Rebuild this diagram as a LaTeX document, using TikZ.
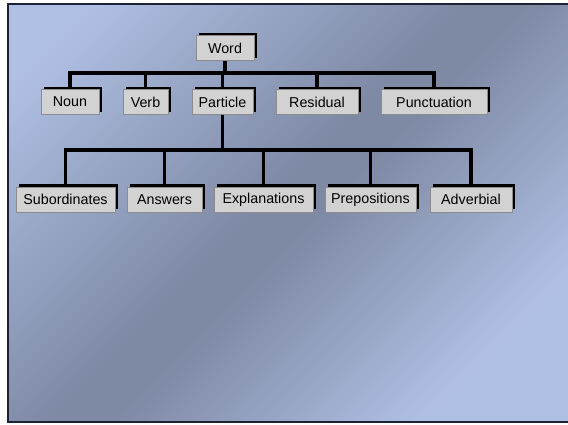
\documentclass[tikz,border=0pt]{standalone}
\usepackage{fontspec}
\setmainfont{Liberation Sans}
\usetikzlibrary{shadows}
\definecolor{bglight}{HTML}{B0C0E4}
\definecolor{bgdark}{HTML}{7E89A4}
\definecolor{frameink}{HTML}{1C2233}
\definecolor{boxfill}{HTML}{D2D2D2}
\definecolor{boxedge}{HTML}{8C8C8C}
\pgfdeclarelayer{slide}
\pgfdeclarelayer{links}
\pgfsetlayers{slide,links,main}
\tikzset{
  wordbox/.style={draw=boxedge, line width=0.6pt, fill=boxfill, rectangle,
    minimum height=25pt, inner sep=0pt, font=\fontsize{14.3}{16}\selectfont,
    general shadow={fill=black, shadow xshift=2.6pt, shadow yshift=2.6pt}},
  link/.style={draw=black, line width=3.8pt, line cap=rect, line join=miter}
}
\begin{document}
\begin{tikzpicture}[x=1pt, y=-1pt]
  \useasboundingbox (0,0) rectangle (568,424);

  % slide background: diagonal light-dark-light gradient in bands of constant x+y
  \begin{pgfonlayer}{slide}
    \fill[white] (0,0) rectangle (568,424);
    \begin{scope}
      \clip (8,4) rectangle (572,422);
      \foreach \s in {0,4,...,996} {
        \pgfmathsetmacro\p{(\s<500) ? max(0,min(100,(\s-90)/3.8)) : max(0,min(100,(840-\s)/3.1))}
        \fill[bgdark!\p!bglight] (\s+10,-10) -- (\s+14.6,-10) -- (\s-445.4,450) -- (\s-450,450) -- cycle;
      }
    \end{scope}
    \draw[frameink, line width=1.8pt] (572,4) -- (8,4) -- (8,422) -- (572,422);
  \end{pgfonlayer}

  % top level
  \node[wordbox, minimum width=58pt] (word) at (225,48) {Word};

  % word classes
  \node[wordbox, minimum width=58pt]  (noun)  at (70,102)    {Noun};
  \node[wordbox, minimum width=45pt]  (verb)  at (145.5,102) {Verb};
  \node[wordbox, minimum width=61pt]  (part)  at (222.5,102) {Particle};
  \node[wordbox, minimum width=82pt]  (resid) at (317,102)   {Residual};
  \node[wordbox, minimum width=106pt] (punct) at (434,102)   {Punctuation};

  % particle subtypes
  \node[wordbox, minimum width=99pt] (subord) at (65.5,199.5)  {Subordinates};
  \node[wordbox, minimum width=75pt] (answ)   at (164.5,199.5) {Answers};
  \node[wordbox, minimum width=99pt] (expl)   at (263.5,199.5) {Explanations};
  \node[wordbox, minimum width=91pt] (prep)   at (370.5,199.5) {Prepositions};
  \node[wordbox, minimum width=82pt] (adv)    at (471,199.5)   {Adverbial};

  % bus levels
  \coordinate (busA) at (0,73);
  \coordinate (busB) at (0,150);

  \begin{pgfonlayer}{links}
    \draw[link] (word.south) -- (word.south |- busA);
    \foreach \n in {noun,verb,part,resid,punct}
      \draw[link] (\n.north) |- (busA -| word.south);
    \draw[link] (part.south) -- (part.south |- busB);
    \foreach \n in {subord,answ,expl,prep,adv}
      \draw[link] (\n.north) |- (busB -| part.south);
  \end{pgfonlayer}
\end{tikzpicture}
\end{document}
